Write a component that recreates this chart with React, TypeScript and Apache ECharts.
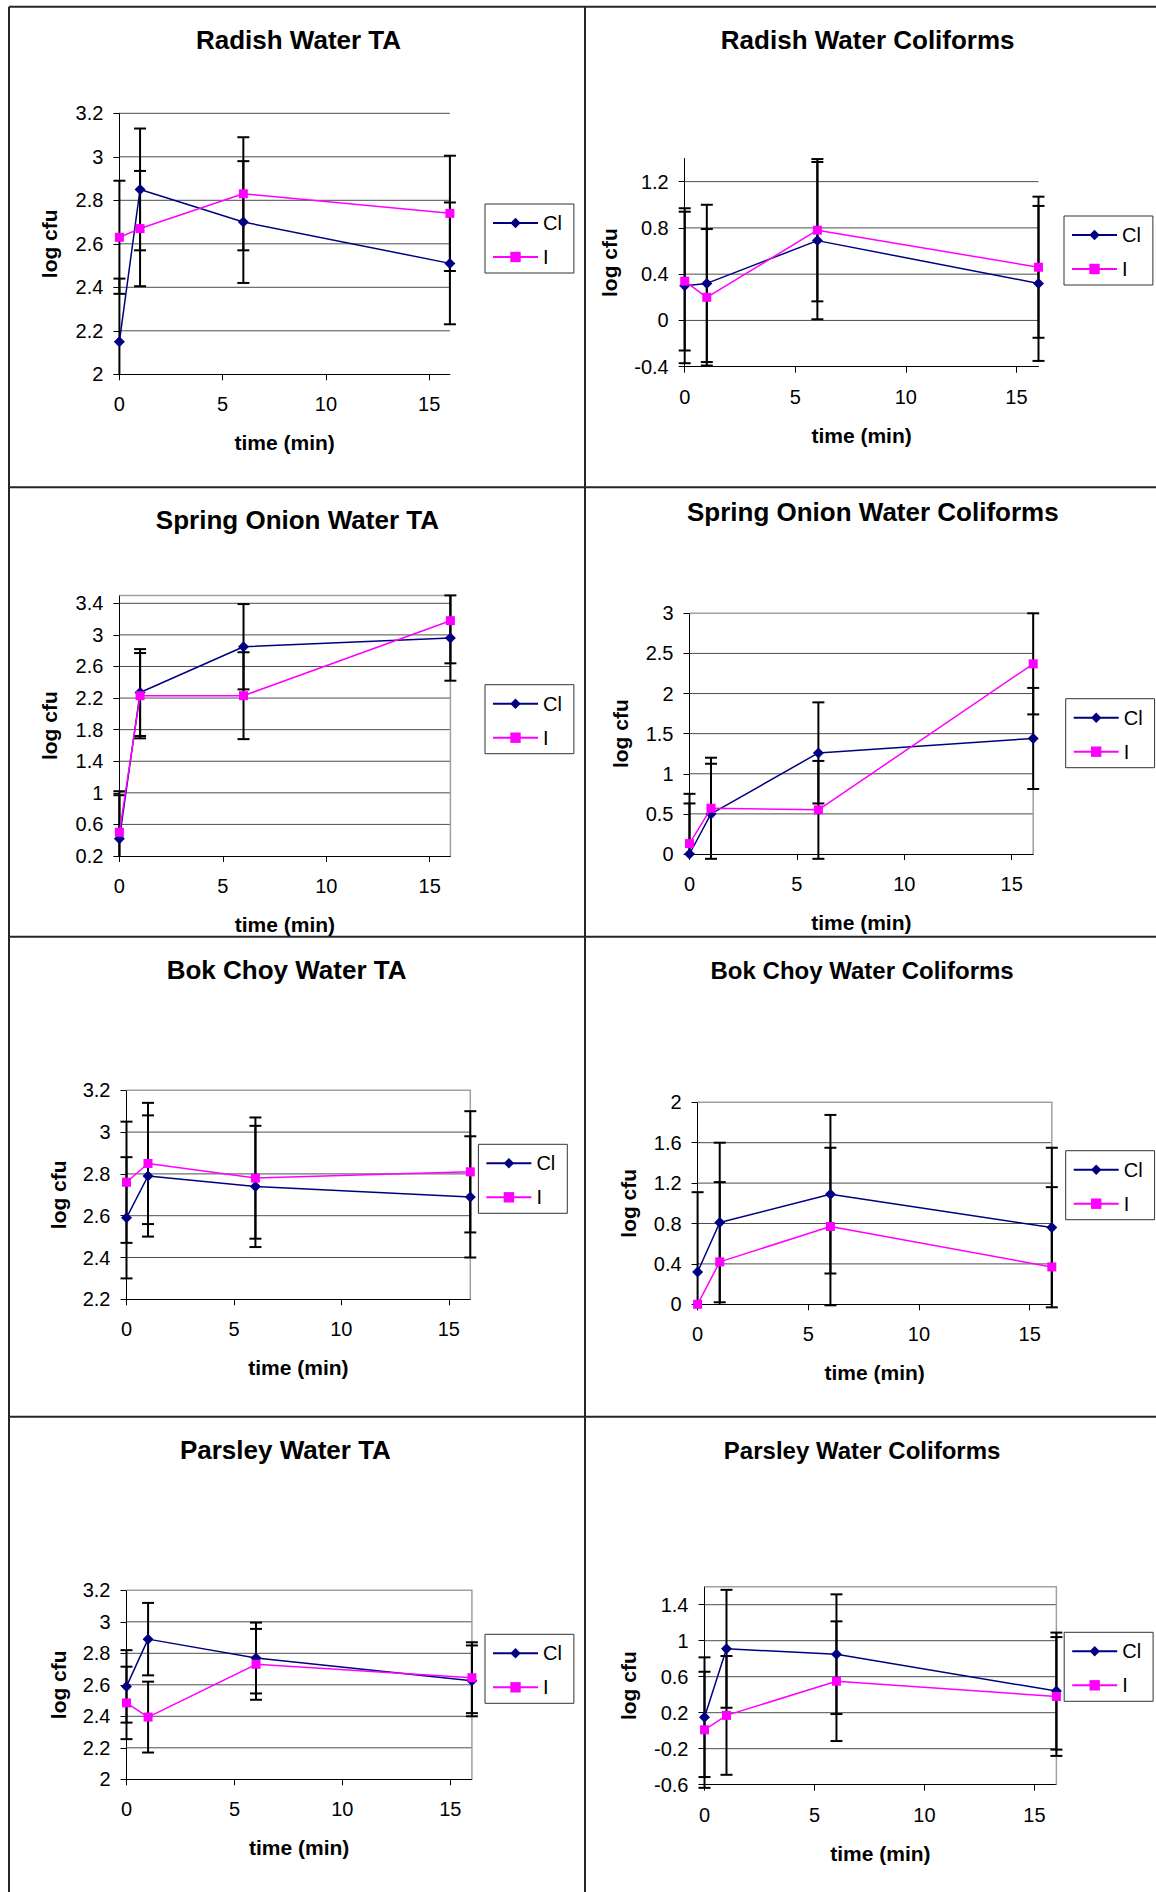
import React, { useEffect, useRef } from 'react';
import * as echarts from 'echarts';

// Sampling times (min) and x-axis tick values shared by every panel
const times = [0, 1, 6, 16];
const xTicks = [0, 5, 10, 15];
const xRange = [0, 16];
const seriesNames = ['Cl', 'I'];

// Radish water, total aerobes (log cfu)
const radishTaCl = [2.15, 2.85, 2.70, 2.51];
const radishTaClErr = [0.29, 0.28, 0.28, 0.28];
const radishTaI = [2.63, 2.67, 2.83, 2.74];
const radishTaIErr = [0.26, 0.265, 0.26, 0.265];
const radishTaTicks = [2, 2.2, 2.4, 2.6, 2.8, 3, 3.2];
const radishTaRange = [2, 3.2];

// Radish water, coliforms
const radishColCl = [0.30, 0.32, 0.69, 0.32];
const radishColClErr = [0.67, 0.68, 0.68, 0.67];
const radishColI = [0.34, 0.20, 0.78, 0.46];
const radishColIErr = [0.60, 0.59, 0.615, 0.61];
const radishColTicks = [-0.4, 0, 0.4, 0.8, 1.2];
const radishColRange = [-0.4, 1.4];

// Spring onion water, total aerobes
const onionTaCl = [0.42, 2.27, 2.85, 2.96];
const onionTaClErr = [0.55, 0.55, 0.54, 0.54];
const onionTaI = [0.50, 2.23, 2.23, 3.18];
const onionTaIErr = [0.52, 0.54, 0.55, 0.54];
const onionTaTicks = [0.2, 0.6, 1, 1.4, 1.8, 2.2, 2.6, 3, 3.4];
const onionTaRange = [0.2, 3.5];

// Spring onion water, coliforms
const onionColCl = [0.0, 0.50, 1.26, 1.44];
const onionColClErr = [0.63, 0.625, 0.63, 0.63];
const onionColI = [0.13, 0.57, 0.55, 2.37];
const onionColIErr = [0.62, 0.63, 0.61, 0.63];
const onionColTicks = [0, 0.5, 1, 1.5, 2, 2.5, 3];
const onionColRange = [0, 3];

// Bok choy water, total aerobes
const bokTaCl = [2.59, 2.79, 2.74, 2.69];
const bokTaClErr = [0.29, 0.29, 0.29, 0.29];
const bokTaI = [2.76, 2.85, 2.78, 2.81];
const bokTaIErr = [0.29, 0.29, 0.29, 0.29];
const bokTaTicks = [2.2, 2.4, 2.6, 2.8, 3, 3.2];
const bokTaRange = [2.2, 3.2];

// Bok choy water, coliforms
const bokColCl = [0.32, 0.81, 1.09, 0.76];
const bokColClErr = [0.79, 0.79, 0.785, 0.79];
const bokColI = [0.0, 0.42, 0.77, 0.37];
const bokColIErr = [0, 0.79, 0.78, 0.79];
const bokColTicks = [0, 0.4, 0.8, 1.2, 1.6, 2];
const bokColRange = [0, 2];

// Parsley water, total aerobes
const parsleyTaCl = [2.59, 2.89, 2.77, 2.625];
const parsleyTaClErr = [0.23, 0.23, 0.225, 0.225];
const parsleyTaI = [2.485, 2.395, 2.73, 2.645];
const parsleyTaIErr = [0.23, 0.225, 0.225, 0.225];
const parsleyTaTicks = [2, 2.2, 2.4, 2.6, 2.8, 3, 3.2];
const parsleyTaRange = [2, 3.2];

// Parsley water, coliforms
const parsleyColCl = [0.15, 0.91, 0.85, 0.44];
const parsleyColClErr = [0.665, 0.655, 0.665, 0.65];
const parsleyColI = [0.01, 0.17, 0.55, 0.38];
const parsleyColIErr = [0.645, 0.66, 0.665, 0.66];
const parsleyColTicks = [-0.6, -0.2, 0.2, 0.6, 1, 1.4];
const parsleyColRange = [-0.6, 1.6];

const panels = [
  { title: 'Radish Water TA', cl: radishTaCl, clErr: radishTaClErr, i: radishTaI, iErr: radishTaIErr, ticks: radishTaTicks, range: radishTaRange },
  { title: 'Radish Water Coliforms', cl: radishColCl, clErr: radishColClErr, i: radishColI, iErr: radishColIErr, ticks: radishColTicks, range: radishColRange },
  { title: 'Spring Onion Water TA', cl: onionTaCl, clErr: onionTaClErr, i: onionTaI, iErr: onionTaIErr, ticks: onionTaTicks, range: onionTaRange },
  { title: 'Spring Onion Water Coliforms', cl: onionColCl, clErr: onionColClErr, i: onionColI, iErr: onionColIErr, ticks: onionColTicks, range: onionColRange },
  { title: 'Bok Choy Water TA', cl: bokTaCl, clErr: bokTaClErr, i: bokTaI, iErr: bokTaIErr, ticks: bokTaTicks, range: bokTaRange },
  { title: 'Bok Choy Water Coliforms', cl: bokColCl, clErr: bokColClErr, i: bokColI, iErr: bokColIErr, ticks: bokColTicks, range: bokColRange },
  { title: 'Parsley Water TA', cl: parsleyTaCl, clErr: parsleyTaClErr, i: parsleyTaI, iErr: parsleyTaIErr, ticks: parsleyTaTicks, range: parsleyTaRange },
  { title: 'Parsley Water Coliforms', cl: parsleyColCl, clErr: parsleyColClErr, i: parsleyColI, iErr: parsleyColIErr, ticks: parsleyColTicks, range: parsleyColRange },
];

// Page layout of each panel: plot rectangle, title centre, legend corner, y-name gap, plot frame
const layouts = [
  { grid: [119.4, 113.3, 330.5, 261], tx: 298.5, ty: 40, ts: 26, lx: 485, ly: 204, yGap: 59, frame: false },
  { grid: [684.7, 158.5, 353.8, 208.2], tx: 867.7, ty: 40, ts: 26, lx: 1064, ly: 216, yGap: 65, frame: false },
  { grid: [119.4, 595.4, 331, 260.6], tx: 297.4, ty: 520, ts: 26, lx: 485, ly: 684.7, yGap: 59, frame: true },
  { grid: [689.5, 613.3, 343.7, 240.7], tx: 872.8, ty: 512.3, ts: 26, lx: 1065.7, ly: 698.7, yGap: 59, frame: true },
  { grid: [126.5, 1090.3, 343.8, 209], tx: 286.6, ty: 970, ts: 26, lx: 478.4, ly: 1144.3, yGap: 58, frame: true },
  { grid: [697.6, 1102.3, 354.2, 202], tx: 862.1, ty: 970, ts: 24, lx: 1065.7, ly: 1150.7, yGap: 59, frame: true },
  { grid: [126.5, 1590.3, 345.4, 189], tx: 285.4, ty: 1450, ts: 26, lx: 485, ly: 1634.3, yGap: 58, frame: true },
  { grid: [704.5, 1586.7, 351.9, 198], tx: 862.1, ty: 1450, ts: 24, lx: 1064.2, ly: 1632.3, yGap: 66, frame: true },
];

const FONT = 'Liberation Sans, Arial, sans-serif';
const CL_COLOR = '#000080';
const I_COLOR = '#FF00FF';
const GRID_COLOR = '#4d4d4d';
const FRAME_COLOR = '#a0a0a0';
const RULE_COLOR = '#262626';

function errorBarRenderer(params: any, api: any) {
  const x = api.value(0);
  const v = api.value(1);
  const e = api.value(2);
  if (!(e > 0)) return { type: 'group', children: [] };
  const cs = params.coordSys;
  const px = api.coord([x, v])[0];
  let yTop = api.coord([x, v + e])[1];
  let yBot = api.coord([x, v - e])[1];
  const tol = 6;
  let capTop = true;
  let capBot = true;
  if (yTop < cs.y - tol) { yTop = cs.y; capTop = false; }
  if (yBot > cs.y + cs.height + tol) { yBot = cs.y + cs.height; capBot = false; }
  const style = { stroke: '#000', lineWidth: 2 };
  const children: any[] = [
    { type: 'line', shape: { x1: px, y1: yTop, x2: px, y2: yBot }, style },
  ];
  if (capTop) children.push({ type: 'line', shape: { x1: px - 6, y1: yTop, x2: px + 6, y2: yTop }, style });
  if (capBot) children.push({ type: 'line', shape: { x1: px - 6, y1: yBot, x2: px + 6, y2: yBot }, style });
  return { type: 'group', children };
}

function gridLineRenderer(params: any, api: any) {
  const cs = params.coordSys;
  const y = api.coord([0, api.value(1)])[1];
  return {
    type: 'line',
    shape: { x1: cs.x, y1: y, x2: cs.x + cs.width, y2: y },
    style: { stroke: GRID_COLOR, lineWidth: 1 },
  };
}

function frameRenderer(params: any) {
  const cs = params.coordSys;
  return {
    type: 'polyline',
    shape: {
      points: [
        [cs.x, cs.y],
        [cs.x + cs.width, cs.y],
        [cs.x + cs.width, cs.y + cs.height],
      ],
    },
    style: { stroke: FRAME_COLOR, lineWidth: 1.5, fill: null },
  };
}

function buildOption() {
  const grid: any[] = [];
  const xAxis: any[] = [];
  const yAxis: any[] = [];
  const title: any[] = [];
  const legend: any[] = [];
  const series: any[] = [];

  panels.forEach((p, k) => {
    const l = layouts[k];
    grid.push({ left: l.grid[0], top: l.grid[1], width: l.grid[2], height: l.grid[3], containLabel: false });
    title.push({
      text: p.title,
      left: l.tx,
      top: l.ty,
      textAlign: 'center',
      textVerticalAlign: 'middle',
      padding: 0,
      textStyle: { fontFamily: FONT, fontSize: l.ts, fontWeight: 'bold', color: '#000' },
    });
    legend.push({
      left: l.lx,
      top: l.ly,
      orient: 'vertical',
      data: seriesNames,
      selectedMode: false,
      padding: [9, 12, 6, 7],
      itemGap: 14,
      itemWidth: 45,
      itemHeight: 13,
      borderColor: '#333',
      borderWidth: 1,
      textStyle: { fontFamily: FONT, fontSize: 20, color: '#000' },
    });
    xAxis.push({
      type: 'value',
      gridIndex: k,
      min: xRange[0],
      max: xRange[1],
      interval: 5,
      axisLine: { show: true, onZero: false, lineStyle: { color: '#000', width: 1 } },
      axisTick: { show: true, length: 6, customValues: xTicks, lineStyle: { color: '#000', width: 1 } },
      axisLabel: { customValues: xTicks, margin: 20, fontSize: 20, color: '#000', fontFamily: FONT },
      splitLine: { show: false },
      name: 'time (min)',
      nameLocation: 'middle',
      nameGap: 58,
      nameTextStyle: { fontFamily: FONT, fontSize: 21, fontWeight: 'bold', color: '#000' },
    });
    yAxis.push({
      type: 'value',
      gridIndex: k,
      min: p.range[0],
      max: p.range[1],
      axisLine: { show: true, onZero: false, lineStyle: { color: '#000', width: 1 } },
      axisTick: { show: true, length: 6, customValues: p.ticks, lineStyle: { color: '#000', width: 1 } },
      axisLabel: { customValues: p.ticks, margin: 16, fontSize: 20, color: '#000', fontFamily: FONT },
      splitLine: { show: false },
      name: 'log cfu',
      nameLocation: 'middle',
      nameGap: l.yGap,
      nameTextStyle: { fontFamily: FONT, fontSize: 21, fontWeight: 'bold', color: '#000' },
    });

    const gridVals = p.ticks.filter((v) => v > p.range[0] && !(l.frame && v >= p.range[1]));
    series.push({
      type: 'custom',
      name: 'gridlines',
      xAxisIndex: k,
      yAxisIndex: k,
      z: 1,
      silent: true,
      renderItem: gridLineRenderer,
      data: gridVals.map((v) => [xRange[0], v]),
    });
    if (l.frame) {
      series.push({
        type: 'custom',
        name: 'frame',
        xAxisIndex: k,
        yAxisIndex: k,
        z: 1,
        silent: true,
        renderItem: frameRenderer,
        data: [[xRange[1], p.range[1]]],
      });
    }
    series.push({
      type: 'custom',
      name: 'error bars',
      xAxisIndex: k,
      yAxisIndex: k,
      z: 3,
      silent: true,
      renderItem: errorBarRenderer,
      data: [
        ...times.map((t, j) => [t, p.cl[j], p.clErr[j]]),
        ...times.map((t, j) => [t, p.i[j], p.iErr[j]]),
      ],
    });
    series.push({
      type: 'line',
      name: 'Cl',
      xAxisIndex: k,
      yAxisIndex: k,
      z: 4,
      silent: true,
      symbol: 'diamond',
      symbolSize: 11,
      showAllSymbol: true,
      itemStyle: { color: CL_COLOR },
      lineStyle: { color: CL_COLOR, width: 1.5 },
      data: times.map((t, j) => [t, p.cl[j]]),
    });
    series.push({
      type: 'line',
      name: 'I',
      xAxisIndex: k,
      yAxisIndex: k,
      z: 5,
      silent: true,
      symbol: 'rect',
      symbolSize: 9,
      showAllSymbol: true,
      itemStyle: { color: I_COLOR },
      lineStyle: { color: I_COLOR, width: 1.5 },
      data: times.map((t, j) => [t, p.i[j]]),
    });
  });

  // Table rules separating the eight panels
  const rule = (x1: number, y1: number, x2: number, y2: number) => ({
    type: 'line',
    silent: true,
    shape: { x1, y1, x2, y2 },
    style: { stroke: RULE_COLOR, lineWidth: 2 },
  });
  const graphic = [
    rule(9, 6.7, 1156, 6.7),
    rule(9, 6.7, 9, 1892),
    rule(585, 6.7, 585, 1892),
    rule(9, 487.3, 1156, 487.3),
    rule(9, 936.7, 1156, 936.7),
    rule(9, 1416.7, 1156, 1416.7),
  ];

  return {
    animation: false,
    backgroundColor: '#fff',
    textStyle: { fontFamily: FONT, color: '#000' },
    title,
    legend,
    grid,
    xAxis,
    yAxis,
    series,
    graphic,
  };
}

export default function App() {
  const ref = useRef<HTMLDivElement>(null);
  useEffect(() => {
    if (!ref.current) return;
    const chart = echarts.init(ref.current, null, { renderer: 'svg' });
    chart.setOption(buildOption() as any);
    return () => chart.dispose();
  }, []);
  return (
    <div
      ref={ref}
      style={{ position: 'absolute', left: 0, top: 0, width: 1156, height: 1892, background: '#fff' }}
    />
  );
}
